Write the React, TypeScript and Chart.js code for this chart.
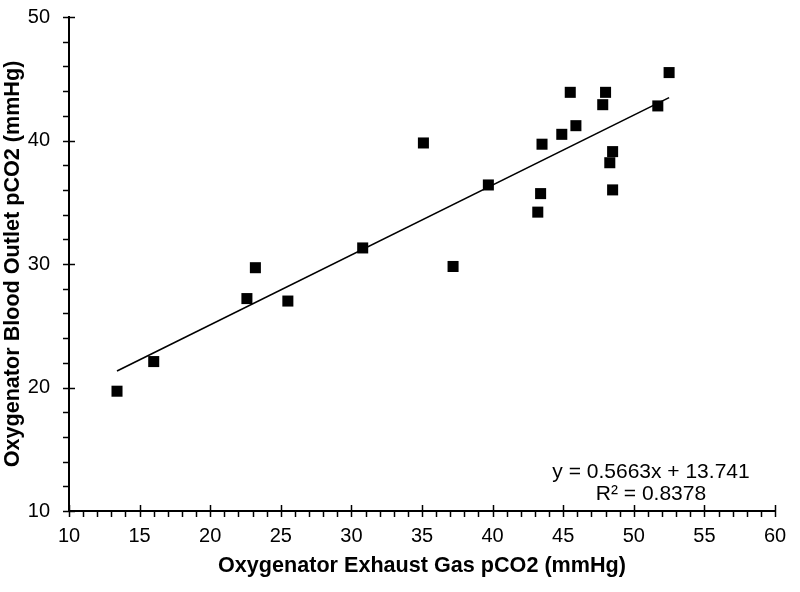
import React, { useEffect, useRef } from "react";
import { Chart, registerables } from "chart.js";

Chart.register(...registerables);

const exhaustGasPCO2 = [13.4, 16.0, 22.6, 23.2, 25.5, 30.8, 35.1, 37.2, 39.7, 43.2, 43.4, 43.5, 44.9, 45.5, 45.9, 47.8, 48.0, 48.3, 48.5, 48.5, 51.7, 52.5];
const bloodOutletPCO2 = [19.7, 22.1, 27.2, 29.7, 27.0, 31.3, 39.8, 29.8, 36.4, 34.2, 35.7, 39.7, 40.5, 43.9, 41.2, 42.9, 43.9, 38.2, 39.1, 36.0, 42.8, 45.5];
const trendSlope = 0.5663;
const trendIntercept = 13.741;
const equationLines = ["y = 0.5663x + 13.741", "R\u00b2 = 0.8378"];
const xTitle = "Oxygenator Exhaust Gas pCO2 (mmHg)";
const yTitle = "Oxygenator Blood Outlet pCO2 (mmHg)";

const FONT = "'Liberation Sans', Arial, sans-serif";

const overlayPlugin = {
  id: "overlay",
  afterDraw(chart: any) {
    const ctx = chart.ctx;
    const xs = chart.scales.x;
    const ys = chart.scales.y;
    const area = chart.chartArea;
    ctx.save();
    ctx.strokeStyle = "#000";
    ctx.lineWidth = 1.5;
    // x ticks
    for (let v = 10; v <= 60; v += 1) {
      const px = Math.round(xs.getPixelForValue(v)) + 0.5;
      const major = v % 5 === 0;
      ctx.beginPath();
      ctx.moveTo(px, major ? area.bottom - 6 : area.bottom);
      ctx.lineTo(px, area.bottom + 6);
      ctx.stroke();
    }
    // y ticks
    for (let v = 10; v <= 50; v += 2) {
      const py = Math.round(ys.getPixelForValue(v)) + 0.5;
      const major = v % 10 === 0;
      ctx.beginPath();
      ctx.moveTo(area.left - 6, py);
      ctx.lineTo(major ? area.left + 6 : area.left, py);
      ctx.stroke();
    }
    ctx.fillStyle = "#000";
    // axis titles
    ctx.font = `bold 21.6px ${FONT}`;
    ctx.textAlign = "center";
    ctx.textBaseline = "alphabetic";
    ctx.fillText(xTitle, (area.left + area.right) / 2, 571.5);
    ctx.save();
    ctx.translate(18.5, (area.top + area.bottom) / 2);
    ctx.rotate(-Math.PI / 2);
    ctx.fillText(yTitle, 0, 0);
    ctx.restore();
    // equation
    ctx.font = `21px ${FONT}`;
    ctx.fillText(equationLines[0], 651, 478);
    ctx.fillText(equationLines[1], 651, 500);
    ctx.restore();
  },
};

export default function App() {
  const ref = useRef<HTMLCanvasElement>(null);
  useEffect(() => {
    if (!ref.current) return;
    const points = exhaustGasPCO2.map((x, i) => ({ x, y: bloodOutletPCO2[i] }));
    const xMin = Math.min(...exhaustGasPCO2);
    const xMax = Math.max(...exhaustGasPCO2);
    const trend = [
      { x: xMin, y: trendSlope * xMin + trendIntercept },
      { x: xMax, y: trendSlope * xMax + trendIntercept },
    ];
    const chart = new Chart(ref.current, {
      type: "scatter",
      data: {
        datasets: [
          {
            type: "line",
            data: trend,
            borderColor: "#000",
            borderWidth: 1.6,
            pointRadius: 0,
            fill: false,
          } as any,
          {
            data: points,
            pointStyle: "rect",
            pointRadius: 7.8,
            pointBackgroundColor: "#000",
            pointBorderColor: "#000",
            pointBorderWidth: 0,
          },
        ],
      },
      options: {
        animation: false,
        responsive: true,
        maintainAspectRatio: false,
        layout: { padding: { top: 17, right: 25, left: 0, bottom: 0 } },
        plugins: { legend: { display: false }, tooltip: { enabled: false } },
        scales: {
          x: {
            type: "linear",
            min: 10,
            max: 60,
            afterFit: (s: any) => { s.height = 81; s.paddingLeft = 0; s.paddingRight = 0; },
            grid: { display: false, drawTicks: false },
            border: { display: true, color: "#000", width: 2 },
            ticks: { stepSize: 5, padding: 13, color: "#000", font: { family: FONT, size: 20 } },
          },
          y: {
            type: "linear",
            min: 10,
            max: 50,
            afterFit: (s: any) => { s.width = 69; s.paddingTop = 0; s.paddingBottom = 0; },
            grid: { display: false, drawTicks: false },
            border: { display: true, color: "#000", width: 2 },
            ticks: { stepSize: 10, padding: 19, color: "#000", font: { family: FONT, size: 20 } },
          },
        },
      },
      plugins: [overlayPlugin],
    });
    return () => chart.destroy();
  }, []);
  return (
    <div style={{ position: "fixed", left: 0, top: 0, width: 800, height: 592, background: "#fff" }}>
      <canvas ref={ref} />
    </div>
  );
}
